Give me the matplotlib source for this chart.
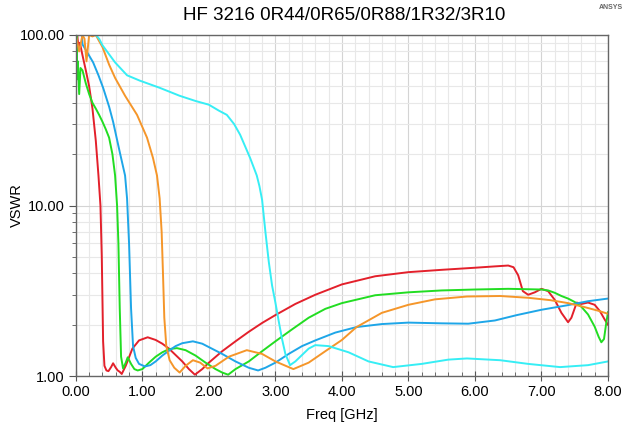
import numpy as np
import matplotlib
matplotlib.use("Agg")
import matplotlib.pyplot as plt
from matplotlib.ticker import FixedLocator, MultipleLocator, FormatStrFormatter, NullFormatter

plt.rcParams['font.family'] = ['Liberation Sans', 'DejaVu Sans']

# --- data (freq in GHz, VSWR) ---
f_0r44 = [0.0, 0.02, 0.04, 0.06, 0.1, 0.15, 0.2, 0.25, 0.3, 0.34, 0.37, 0.39, 0.41, 0.43, 0.46,
          0.49, 0.53, 0.56, 0.6, 0.63, 0.66, 0.69, 0.75, 0.85, 0.95, 1.08, 1.2, 1.3, 1.4, 1.5,
          1.6, 1.7, 1.79, 1.9, 2.0, 2.2, 2.4, 2.6, 2.8, 3.0, 3.3, 3.6, 4.0, 4.5, 5.0, 5.5, 6.0,
          6.3, 6.5, 6.58, 6.65, 6.72, 6.8, 6.9, 7.0, 7.1, 7.2, 7.3, 7.4, 7.45, 7.53, 7.6, 7.7,
          7.8, 7.88, 7.95, 8.0]
v_0r44 = [60, 100, 85, 90, 76, 62, 50, 37, 24, 15, 10, 5, 1.6, 1.15, 1.08,
          1.07, 1.13, 1.19, 1.12, 1.08, 1.06, 1.03, 1.15, 1.45, 1.62, 1.69, 1.63, 1.55, 1.45, 1.33,
          1.22, 1.1, 1.02, 1.1, 1.2, 1.4, 1.6, 1.82, 2.05, 2.28, 2.65, 3.0, 3.45, 3.85, 4.07, 4.2, 4.32,
          4.4, 4.45, 4.35, 3.9, 3.15, 3.0, 3.1, 3.25, 3.15, 2.8, 2.35, 2.07, 2.2, 2.7, 2.65, 2.7,
          2.62, 2.4, 2.15, 2.0]

f_0r65 = [0.0, 0.01, 0.02, 0.03, 0.05, 0.07, 0.1, 0.15, 0.2, 0.25, 0.3, 0.35, 0.4, 0.45, 0.5,
          0.55, 0.59, 0.62, 0.64, 0.66, 0.68, 0.71, 0.75, 0.78, 0.83, 0.88, 0.93, 1.0, 1.1, 1.2, 1.3,
          1.4, 1.52, 1.65, 1.8, 1.95, 2.1, 2.2, 2.29, 2.4, 2.6, 2.8, 3.0, 3.25, 3.5, 3.75, 4.0,
          4.5, 5.0, 5.5, 6.0, 6.5, 7.0, 7.1, 7.2, 7.3, 7.4, 7.5, 7.6, 7.7, 7.8, 7.86, 7.9, 7.94,
          7.97, 8.0]
v_0r65 = [40, 100, 55, 70, 45, 64, 62, 52, 45, 40, 37, 34, 31, 28, 25,
          20, 15, 10, 6, 2.5, 1.3, 1.11, 1.2, 1.29, 1.18, 1.1, 1.08, 1.1, 1.2, 1.3, 1.38,
          1.44, 1.46, 1.42, 1.32, 1.2, 1.1, 1.05, 1.02, 1.1, 1.22, 1.4, 1.6, 1.88, 2.2, 2.48, 2.68,
          2.98, 3.1, 3.18, 3.22, 3.25, 3.22, 3.18, 3.08, 2.95, 2.85, 2.72, 2.55, 2.3, 1.95, 1.7, 1.58, 1.65,
          2.0, 2.37]

f_0r88 = [0.0, 0.05, 0.09, 0.1, 0.18, 0.26, 0.34, 0.41, 0.5, 0.56, 0.66, 0.74, 0.77, 0.8, 0.83,
          0.86, 0.9, 0.95, 1.04, 1.12, 1.2, 1.3, 1.41, 1.5, 1.6, 1.76, 1.9, 2.0, 2.2, 2.4, 2.6,
          2.74, 2.85, 3.0, 3.2, 3.4, 3.6, 3.9, 4.22, 4.6, 5.0, 5.5, 5.9, 6.3, 6.63, 7.0, 7.38,
          7.7, 8.0]
v_0r88 = [120, 110, 100, 88, 78, 69, 58, 49, 38, 31, 20.6, 15, 11, 6, 2.5,
          1.5, 1.28, 1.18, 1.14, 1.16, 1.22, 1.32, 1.42, 1.5, 1.56, 1.6, 1.55, 1.48, 1.35, 1.22, 1.12,
          1.08, 1.12, 1.2, 1.35, 1.5, 1.62, 1.8, 1.94, 2.02, 2.06, 2.04, 2.03, 2.12, 2.28, 2.45, 2.6,
          2.75, 2.85]

f_1r32 = [0.0, 0.05, 0.1, 0.13, 0.16, 0.2, 0.25, 0.3, 0.35, 0.4, 0.5, 0.59, 0.74, 0.92, 1.07,
          1.16, 1.22, 1.26, 1.29, 1.31, 1.33, 1.36, 1.41, 1.48, 1.56, 1.65, 1.76, 1.87, 1.98, 2.1,
          2.3, 2.57, 2.8, 3.0, 3.27, 3.5, 3.75, 4.0, 4.22, 4.6, 5.0, 5.4, 5.88, 6.38, 6.8, 7.13,
          7.4, 7.63, 7.85, 8.0]
v_1r32 = [100, 80, 100, 95, 70, 100, 98, 100, 92, 85, 67, 56, 44, 34, 25,
          19, 15, 11, 7, 4, 2.2, 1.5, 1.24, 1.12, 1.05, 1.15, 1.24, 1.2, 1.11, 1.15,
          1.3, 1.42, 1.35, 1.22, 1.1, 1.2, 1.4, 1.63, 1.94, 2.35, 2.62, 2.82, 2.93, 2.95, 2.88, 2.79,
          2.68, 2.55, 2.42, 2.32]

f_3r10 = [0.0, 0.25, 0.3, 0.35, 0.4, 0.5, 0.59, 0.77, 0.96, 1.26, 1.56, 1.8, 2.0, 2.15, 2.27,
          2.38, 2.47, 2.55, 2.62, 2.68, 2.72, 2.76, 2.8, 2.85, 2.9, 2.95, 3.0, 3.05, 3.1, 3.15,
          3.22, 3.3, 3.4, 3.5, 3.6, 3.8, 4.1, 4.4, 4.77, 5.2, 5.6, 5.88, 6.38, 6.8, 7.28, 7.7, 8.0]
v_3r10 = [150, 110, 100, 95, 87, 77, 69, 58, 54, 49, 44, 41, 39, 36, 34,
          30, 26, 22, 19, 16.5, 15, 13, 10.8, 7, 4.7, 3.4, 2.7, 2.1, 1.65, 1.35,
          1.16, 1.22, 1.33, 1.45, 1.52, 1.5, 1.38, 1.22, 1.13, 1.18, 1.25, 1.27, 1.24, 1.18, 1.13, 1.16, 1.22]

series = [
    (f_0r44, v_0r44, '#e3202b'),
    (f_0r65, v_0r65, '#22dd22'),
    (f_0r88, v_0r88, '#1ea6e8'),
    (f_1r32, v_1r32, '#f5962a'),
    (f_3r10, v_3r10, '#36eef5'),
]

fig = plt.figure(figsize=(6.32, 4.26), dpi=100)
ax = fig.add_axes([0.120, 0.117, 0.842, 0.801])

for f, v, c in series:
    ax.plot(f, v, color=c, lw=1.4)

ax.set_yscale('log')
ax.set_xlim(0, 8)
ax.set_ylim(1, 100)

ax.xaxis.set_major_locator(MultipleLocator(1))
ax.xaxis.set_minor_locator(MultipleLocator(0.2))
ax.xaxis.set_major_formatter(FormatStrFormatter('%.2f'))
ax.yaxis.set_major_locator(FixedLocator([1, 10, 100]))
ax.yaxis.set_major_formatter(FormatStrFormatter('%.2f'))
ax.yaxis.set_minor_locator(FixedLocator([k * d for d in (1, 10) for k in range(2, 10)]))
ax.yaxis.set_minor_formatter(NullFormatter())

ax.grid(which='major', color='#d4d4d4', lw=0.8)
ax.grid(which='minor', color='#e8e8e8', lw=0.8)
ax.set_axisbelow(True)

ax.tick_params(which='both', labelsize=10.5, colors='#555555', labelcolor='black')
ax.tick_params(axis='x', which='major', direction='inout', length=7, pad=3)
ax.tick_params(axis='x', which='minor', direction='in', length=3)
ax.tick_params(axis='y', which='major', direction='out', length=5, pad=3)
ax.tick_params(axis='y', which='minor', direction='out', length=3)
ax.tick_params(top=False, right=False)
for s in ax.spines.values():
    s.set_color('#666666')
    s.set_linewidth(1.0)

ax.set_xlabel('Freq [GHz]', fontsize=10.5, labelpad=6)
ax.set_ylabel('VSWR', fontsize=10.5)
ax.yaxis.set_label_coords(-0.097, 0.5)
fig.text(0.545, 0.963, 'HF 3216 0R44/0R65/0R88/1R32/3R10', ha='center', va='center', fontsize=13.5)
fig.text(0.985, 0.99, 'ANSYS', ha='right', va='top', fontsize=5, color='#666666', fontweight='bold')

fig.savefig('out.png', dpi=100)
